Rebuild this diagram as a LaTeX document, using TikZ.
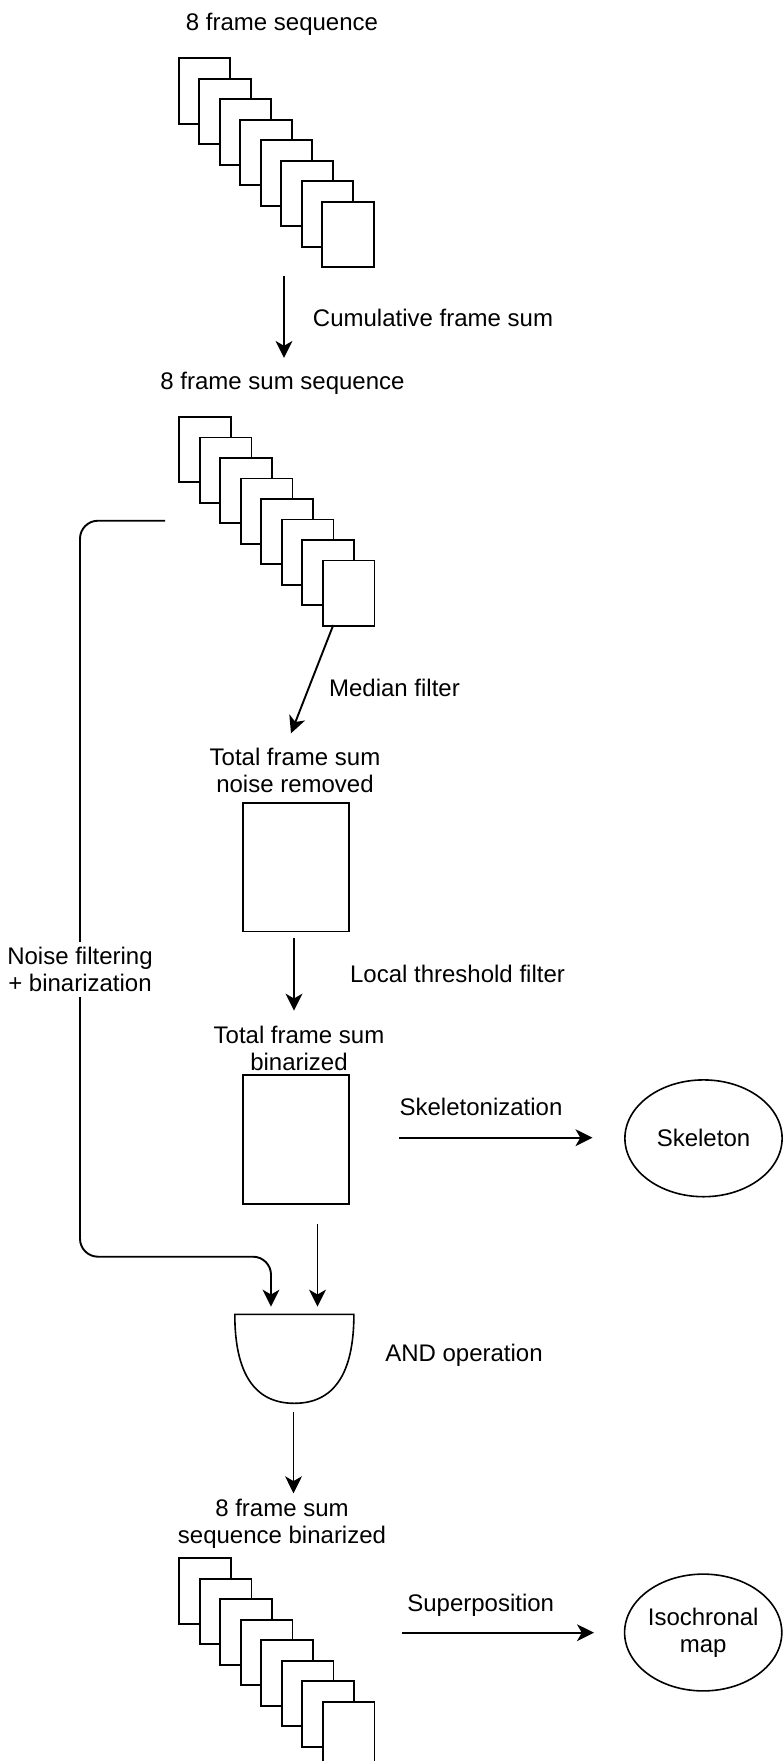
\documentclass[tikz,border=0pt]{standalone}
\usepackage{fontspec}
\setmainfont{Liberation Sans}
\usetikzlibrary{arrows.meta,shapes.geometric}
\begin{document}
\begin{tikzpicture}[x=0.5pt,y=-0.5pt,
  font=\fontsize{12pt}{13.5pt}\selectfont,
  every node/.style={inner sep=0pt},
  sheet/.style={draw, fill=white, line width=0.95pt, minimum width=25.85pt,
    minimum height=32.65pt, anchor=north west, inner sep=0pt},
  imgbox/.style={draw, fill=white, line width=0.95pt, minimum width=53pt,
    minimum height=64.4pt, anchor=north west},
  lbl/.style={anchor=base},
  mlbl/.style={align=center, anchor=center},
  outnode/.style={draw, ellipse, line width=0.8pt, minimum width=78.6pt,
    minimum height=58.4pt, align=center},
  arr/.style={line width=0.95pt, -{Stealth[length=8.5pt,width=8.4pt,inset=2.4pt]}},
  wire/.style={line width=0.8pt},
]
\useasboundingbox (0,0) rectangle (783,1761);
\clip (0,0) rectangle (783,1761);

% --- raw sequence -------------------------------------------------------
\node[lbl] (t-seq) at (282,31) {8 frame sequence};
\foreach \i in {0,...,7}
  \node[sheet] (sa-\i) at ({177.7+20.5*\i},{57.3+20.5*\i}) {};

\coordinate (cum-s) at (284,276);
\coordinate (cum-e) at (284,358);
\draw[arr] (cum-s) -- (cum-e);
\node[lbl] (t-cum) at (433,326.5) {Cumulative frame sum};

% --- cumulative sums ----------------------------------------------------
\node[lbl] (t-sumseq) at (282.5,389.3) {8 frame sum sequence};
\foreach \i in {0,...,7}
  \node[sheet] (sb-\i) at ({178.3+20.5*\i},{416+20.5*\i}) {};

\coordinate (med-s) at (333.3,625);
\coordinate (med-e) at (291,733.3);
\draw[arr] (med-s) -- (med-e);
\node[lbl] (t-med) at (394.5,696) {Median filter};

% --- median filtered total ----------------------------------------------
\node[mlbl] (t-nr) at (295,770.5) {Total frame sum\\noise removed};
\node[imgbox] (b-nr) at (242,801.7) {};

\coordinate (loc-s) at (294,938.3);
\coordinate (loc-e) at (294,1010.7);
\draw[arr] (loc-s) -- (loc-e);
\node[lbl] (t-loc) at (457.5,982.7) {Local threshold filter};

% --- binarized total ----------------------------------------------------
\node[mlbl] (t-bin) at (299,1048.3) {Total frame sum\\binarized};
\node[imgbox] (b-bin) at (242,1074) {};

\coordinate (sk-s) at (399,1137.7);
\coordinate (sk-e) at (592.5,1137.7);
\draw[arr] (sk-s) -- (sk-e);
\node[lbl] (t-skel) at (481,1115.7) {Skeletonization};
\node[outnode] (skel) at (703.5,1138.3) {Skeleton};

% --- side branch: per-frame noise filtering + binarization ---------------
\coordinate (nb-s) at (165,520.7);
\coordinate (nb-e) at (271,1306.7);
\draw[arr, rounded corners=9pt] (nb-s) -- (80,520.7) -- (80,1256.7)
  -- (271,1256.7) -- (nb-e);
\node[mlbl, fill=white, inner xsep=1pt, inner ysep=2.6pt] (t-noise)
  at (80,969) {Noise filtering\\+ binarization};

\coordinate (bin-s) at (317.5,1224);
\coordinate (bin-e) at (317.5,1306.7);
\draw[arr] (bin-s) -- (bin-e);

% --- AND gate -----------------------------------------------------------
\coordinate (g-tl) at (234.8,1314.3);
\coordinate (g-bc) at (294.3,1403.3);
\coordinate (g-tr) at (353.9,1314.3);
\draw[wire] (g-tl) .. controls (234.8,1373.6) and (254.6,1403.3) .. (g-bc)
  .. controls (334.0,1403.3) and (353.9,1373.6) .. (g-tr) -- cycle;
\node[lbl] (t-and) at (464,1361.7) {AND operation};

\coordinate (and-s) at (293.5,1411.7);
\coordinate (and-e) at (293.5,1493.3);
\draw[arr] (and-s) -- (and-e);

% --- binarized sequence -------------------------------------------------
\node[mlbl] (t-sbin) at (282,1523.8) {8 frame sum\\sequence binarized};
\foreach \i in {0,...,7}
  \node[sheet] (sc-\i) at ({178.3+20.5*\i},{1557.3+20.5*\i}) {};

\coordinate (sp-s) at (402.3,1632.7);
\coordinate (sp-e) at (594,1632.7);
\draw[arr] (sp-s) -- (sp-e);
\node[lbl] (t-sup) at (480.7,1611.7) {Superposition};
\node[outnode] (iso) at (703.2,1632.5) {Isochronal\\map};
\end{tikzpicture}
\end{document}
